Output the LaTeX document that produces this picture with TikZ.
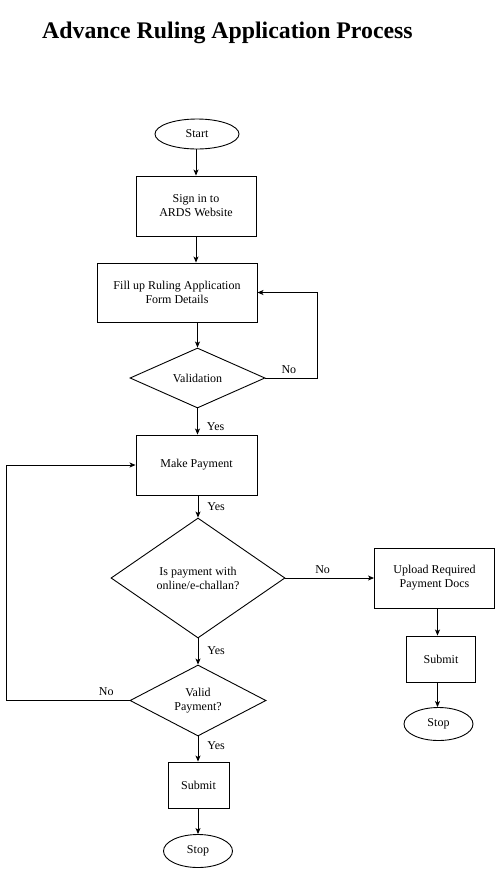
\documentclass[tikz,border=0pt]{standalone}
\usepackage{fontspec}
\setmainfont{Liberation Serif}
\usetikzlibrary{shapes.geometric,arrows.meta}

\begin{document}
\begin{tikzpicture}[
        x=1pt, y=-1pt,
        every node/.style={font=\fontsize{12}{14}\selectfont},
        terminal/.style={ellipse, draw, line width=0.9pt, inner sep=0pt, align=center},
        process/.style={rectangle, draw, line width=0.9pt, inner sep=2pt, align=center},
        decision/.style={diamond, draw, line width=0.9pt, inner sep=0pt, aspect=2.2, align=center},
        flow/.style={draw, line width=0.9pt, -{Stealth[length=6pt, width=5pt, inset=1.5pt]}},
        tag/.style={inner sep=1pt},
        yes/.style={tag, right=8pt},
        no/.style={tag, above=3pt}
    ]
        \useasboundingbox (0,0) rectangle (495,871);
        \node[font=\fontsize{23.8}{27}\selectfont\bfseries, anchor=base west, inner sep=0pt] (title) at (42,38) {Advance Ruling Application Process};

        % main column
        \node[terminal, minimum width=84pt, minimum height=30pt] (start) at (197,134) {Start};
        \node[process, minimum width=120pt, minimum height=60pt] (signin) at (196,206) {Sign in to\\ARDS Website};
        \node[process, minimum width=160pt, minimum height=59pt] (fillup) at (177,292.5) {Fill up Ruling Application\\Form Details};
        \node[decision, minimum width=135pt, minimum height=60pt] (valid) at (197.5,378) {Validation};
        \node[process, minimum width=121pt, minimum height=60pt] (payment) at (196.5,465) {Make Payment};
        \node[decision, minimum width=174pt, minimum height=120pt] (online) at (198,578) {Is payment with\\online/e-challan?};
        \node[decision, minimum width=136pt, minimum height=71pt] (paycheck) at (198,700.5) {Valid\\Payment?};
        \node[process, minimum width=61pt, minimum height=46pt] (submitA) at (198.5,785) {Submit};
        \node[terminal, minimum width=69pt, minimum height=33pt] (stopA) at (198,851) {Stop};

        % side column
        \node[process, minimum width=120pt, minimum height=60pt] (upload) at (434.5,578) {Upload Required\\Payment Docs};
        \node[process, minimum width=69pt, minimum height=46pt] (submitB) at (441,659) {Submit};
        \node[terminal, minimum width=69pt, minimum height=33pt] (stopB) at (438.5,724) {Stop};

        % connectors
        \draw[flow] (start.south -| signin.north) -- (signin.north);
        \draw[flow] (signin.south) -- (signin.south |- fillup.north);
        \draw[flow] (valid.north |- fillup.south) -- (valid.north);
        \draw[flow] (valid.east) -- node[no, pos=0.45] {No} ++(52,0) |- (fillup.east);
        \draw[flow] (valid.south) -- node[yes, pos=0.7] {Yes} (payment.north -| valid.south);
        \draw[flow] (payment.south -| online.north) -- node[yes] {Yes} (online.north);
        \draw[flow] (online.east) -- node[no, pos=0.42] {No} (upload.west);
        \draw[flow] (online.south) -- node[yes, pos=0.45] {Yes} (paycheck.north);
        \draw[flow] (paycheck.west) -- node[no, pos=0.19] {No} ++(-123,0) |- (payment.west);
        \draw[flow] (paycheck.south) -- node[yes, pos=0.35] {Yes} (submitA.north -| paycheck.south);
        \draw[flow] (submitA.south -| stopA.north) -- (stopA.north);
        \draw[flow] (upload.south -| 437.5,0) -- (submitB.north -| 437.5,0);
        \draw[flow] (submitB.south -| 437.5,0) -- (stopB.north -| 437.5,0);
    \end{tikzpicture}
\end{document}
